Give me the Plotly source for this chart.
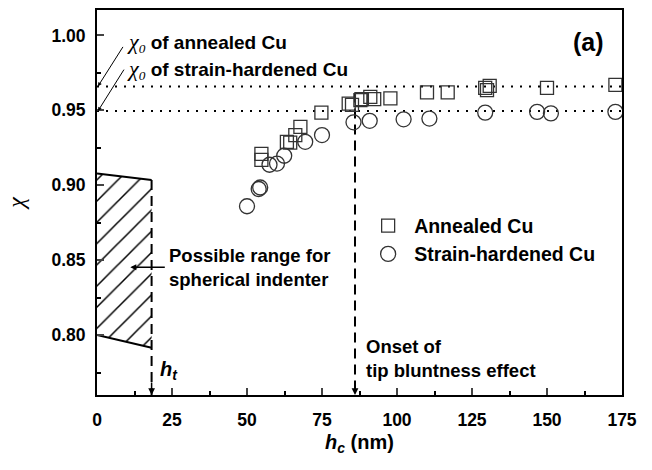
import plotly.graph_objects as go

# ---- data ----
annealed_hc = [54.8, 54.8, 63.3, 64.4, 66.1, 67.8, 74.8, 83.9, 85.0, 87.8, 88.3, 91.1, 92.4, 97.8, 110.0, 116.9, 129.4, 130.0, 130.9, 150.0, 172.8]
annealed_chi = [0.921, 0.917, 0.929, 0.9285, 0.9335, 0.939, 0.9485, 0.9545, 0.9537, 0.9568, 0.9575, 0.959, 0.9575, 0.958, 0.962, 0.962, 0.965, 0.9635, 0.9663, 0.965, 0.967]

hard_hc = [50.0, 53.9, 54.4, 57.5, 60.0, 62.4, 69.4, 75.0, 85.5, 90.9, 102.2, 110.8, 129.4, 146.7, 151.3, 172.8]
hard_chi = [0.886, 0.8975, 0.8985, 0.9137, 0.9145, 0.9197, 0.929, 0.9335, 0.942, 0.943, 0.944, 0.9445, 0.9485, 0.949, 0.948, 0.949]

chi0_annealed = 0.966
chi0_hardened = 0.9495

ht = 18.2
onset = 86.0

hatch_x = [0, ht, ht, 0]
hatch_y = [0.9079, 0.9035, 0.7915, 0.800]

x_range = [0, 175]
y_range = [0.76, 1.017]
x_ticks = [0, 25, 50, 75, 100, 125, 150, 175]
y_ticks = [0.80, 0.85, 0.90, 0.95, 1.00]

FONT = "Arial, Liberation Sans, sans-serif"
SERIF = "Times New Roman, Liberation Serif, serif"

fig = go.Figure()

# hatched region
fig.add_trace(go.Scatter(
    x=hatch_x, y=hatch_y, mode="lines", fill="toself",
    line=dict(width=0, color="black"),
    fillcolor="white",
    fillpattern=dict(shape="/", fgcolor="black", fgopacity=1, bgcolor="white",
                     size=15, solidity=0.1),
    showlegend=False, hoverinfo="skip"))
# top and bottom boundaries of the hatched region
fig.add_trace(go.Scatter(x=hatch_x[0:2], y=hatch_y[0:2], mode="lines",
                         line=dict(color="black", width=2), showlegend=False))
fig.add_trace(go.Scatter(x=[hatch_x[3], hatch_x[2]], y=[hatch_y[3], hatch_y[2]], mode="lines",
                         line=dict(color="black", width=2), showlegend=False))

# dotted reference lines
for v in (chi0_annealed, chi0_hardened):
    fig.add_trace(go.Scatter(x=x_range, y=[v, v], mode="lines",
                             line=dict(color="black", width=2, dash="2px,7px"),
                             showlegend=False, hoverinfo="skip"))

# dashed vertical lines
fig.add_trace(go.Scatter(x=[ht, ht], y=[hatch_y[1], y_range[0]], mode="lines",
                         line=dict(color="black", width=2, dash="10px,6px"), showlegend=False))
fig.add_trace(go.Scatter(x=[onset, onset], y=[0.962, y_range[0]], mode="lines",
                         line=dict(color="black", width=2, dash="10px,6px"), showlegend=False))

# data
fig.add_trace(go.Scatter(x=annealed_hc, y=annealed_chi, mode="markers", name="Annealed Cu",
                         marker=dict(symbol="square-open", size=13, color="#333",
                                     line=dict(width=1.3, color="#333"))))
fig.add_trace(go.Scatter(x=hard_hc, y=hard_chi, mode="markers", name="Strain-hardened Cu",
                         marker=dict(symbol="circle-open", size=15, color="#333",
                                     line=dict(width=1.3, color="#333"))))

ann = []
# arrowheads at bottom of dashed lines
for xv in (ht, onset):
    ann.append(dict(x=xv, y=y_range[0], xref="x", yref="y", text="", showarrow=True,
                    ax=0, ay=-14, arrowhead=2, arrowsize=0.9, arrowwidth=1.5, arrowcolor="black"))
# chi0 arrows
ann.append(dict(x=0.3, y=chi0_annealed, xref="x", yref="y", text="", showarrow=True,
                ax=26, ay=-41, arrowhead=2, arrowsize=0.8, arrowwidth=1, arrowcolor="black"))
ann.append(dict(x=0.3, y=chi0_hardened, xref="x", yref="y", text="", showarrow=True,
                ax=27, ay=-43, arrowhead=2, arrowsize=0.8, arrowwidth=1, arrowcolor="black"))
# arrow to hatched region
ann.append(dict(x=11.1, y=0.8452, xref="x", yref="y", text="", showarrow=True,
                ax=36, ay=0, arrowhead=2, arrowsize=0.8, arrowwidth=1.5, arrowcolor="black"))


def px_to_paper(px, py):
    return (px - 97) / (652 - 97 - 30), (470 - 75 - py) / (470 - 75 - 8)


chi0 = ('<span style="font-family:Liberation Serif;font-style:italic;font-size:22px;">χ</span>'
        '<sub><span style="font-family:Liberation Serif;font-style:italic;">0</span></sub>')
for label, py in (("of annealed Cu", 41), ("of strain-hardened Cu", 68)):
    xp, yp = px_to_paper(125, py)
    ann.append(dict(x=xp, y=yp, xref="paper", yref="paper", text=chi0 + " <b>" + label + "</b>",
                    showarrow=False, xanchor="left", yanchor="middle",
                    font=dict(size=19, family=FONT, color="black")))

texts = [
    ("<b>(a)</b>", 606, 40, 25, "right"),
    ("<b>Possible range for<br>spherical indenter</b>", 167, 267, 18.5, "left"),
    ("<b>Onset of<br>tip bluntness effect</b>", 364, 358, 18.5, "left"),
]
for t, px, py, sz, anchor in texts:
    xp, yp = px_to_paper(px, py)
    ann.append(dict(x=xp, y=yp, xref="paper", yref="paper", text=t, showarrow=False,
                    xanchor=anchor, yanchor="middle", align="left",
                    font=dict(size=sz, family=FONT, color="black")))

xp, yp = px_to_paper(158, 370)
ann.append(dict(x=xp, y=yp, xref="paper", yref="paper",
                text="<b><i>h</i></b><sub><b><i>t</i></b></sub>", showarrow=False,
                xanchor="left", yanchor="middle", font=dict(size=20, family=FONT, color="black")))

fig.update_layout(
    width=652, height=470,
    margin=dict(l=97, r=30, t=8, b=75),
    paper_bgcolor="white", plot_bgcolor="white",
    font=dict(family=FONT, size=17, color="black"),
    annotations=ann,
    legend=dict(x=0.505, y=0.49, xanchor="left", yanchor="top",
                font=dict(size=19.5, family=FONT, weight="bold"),
                bgcolor="rgba(0,0,0,0)", tracegroupgap=0, itemwidth=42),
    showlegend=True,
)
fig.update_xaxes(range=x_range, tickvals=x_ticks, ticks="inside", ticklen=7, tickwidth=2,
                 showline=True, linewidth=2, linecolor="black", mirror=True, showgrid=False,
                 zeroline=False, tickfont=dict(size=17.5, weight="bold"), ticklabelstandoff=8,
                 minor=dict(dtick=12.5, tick0=0, ticks="inside", ticklen=4, tickwidth=2, tickcolor="black"),
                 title=dict(text="<b><i>h</i></b><sub><b><i>c</i></b></sub><b> (nm)</b>",
                            font=dict(size=20), standoff=6))
fig.update_yaxes(range=y_range, tickvals=y_ticks, tickformat=".2f", ticks="inside", ticklen=7, tickwidth=2,
                 showline=True, linewidth=2, linecolor="black", mirror=True, showgrid=False,
                 zeroline=False, tickfont=dict(size=17.5, weight="bold"), ticklabelstandoff=6,
                 minor=dict(dtick=0.025, tick0=0.8, ticks="inside", ticklen=4, tickwidth=2, tickcolor="black"),
                 title=dict(text="<i>χ</i>", font=dict(size=24, family=SERIF), standoff=20))

fig.write_html("out.html")
